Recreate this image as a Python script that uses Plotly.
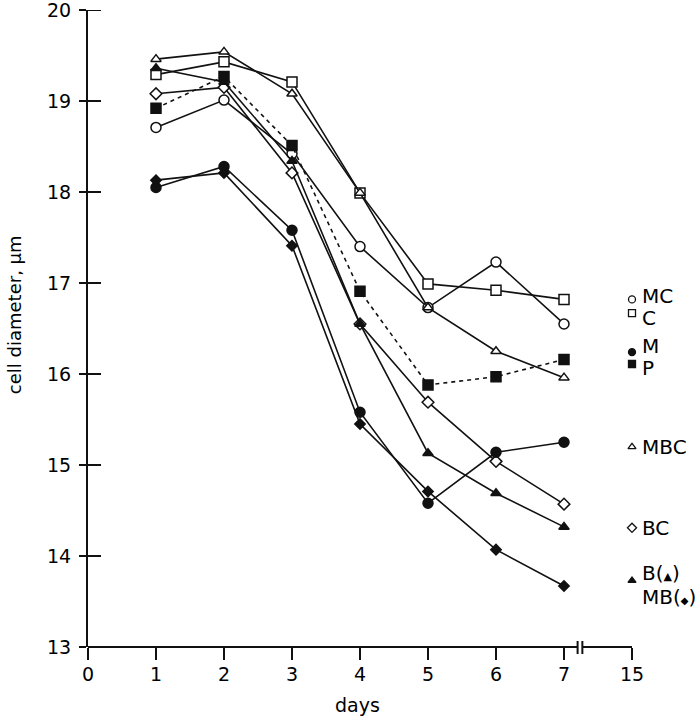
import plotly.graph_objects as go

days = [1, 2, 3, 4, 5, 6, 7]
MC = [18.71, 19.01, 18.42, 17.40, 16.73, 17.23, 16.55]
C = [19.29, 19.43, 19.21, 17.99, 16.99, 16.92, 16.82]
MBC = [19.46, 19.54, 19.08, 17.99, 16.73, 16.25, 15.96]
P = [18.92, 19.27, 18.51, 16.91, 15.88, 15.97, 16.16]
BC = [19.08, 19.15, 18.21, 16.55, 15.69, 15.04, 14.57]
B = [19.36, 19.21, 18.34, 16.55, 15.13, 14.69, 14.32]
M = [18.05, 18.28, 17.58, 15.58, 14.58, 15.14, 15.25]
MB = [18.13, 18.21, 17.41, 15.45, 14.71, 14.07, 13.67]

x_tickvals = [0, 1, 2, 3, 4, 5, 6, 7, 8]
x_ticktext = ["0", "1", "2", "3", "4", "5", "6", "7", "15"]
y_tickvals = [13, 14, 15, 16, 17, 18, 19, 20]

FONT = "DejaVu Sans"
BLACK = "#111111"

series = [
    ("MC", MC, "circle", "white", 10, "solid"),
    ("C", C, "square", "white", 10, "solid"),
    ("MBC", MBC, "triangle-up", "white", 9, "solid"),
    ("BC", BC, "diamond", "white", 9, "solid"),
    ("M", M, "circle", BLACK, 10, "solid"),
    ("MB", MB, "diamond", BLACK, 8, "solid"),
    ("B", B, "triangle-up", BLACK, 9, "solid"),
    ("P", P, "square", BLACK, 10, "4px,4px"),
]

fig = go.Figure()
for name, vals, sym, fill, size, dash in series:
    fig.add_trace(go.Scatter(
        x=days, y=vals, mode="lines+markers", name=name,
        line=dict(color=BLACK, width=1.6, dash=dash),
        marker=dict(symbol=sym, size=size, color=fill,
                    line=dict(color=BLACK, width=1.5)),
        cliponaxis=False, showlegend=False,
    ))

# key on the right
legend_items = [
    ("circle", "white", 16.82, "MC", 16.86),
    ("square", "white", 16.67, "C", 16.62),
    ("circle", BLACK, 16.24, "M", 16.31),
    ("square", BLACK, 16.11, "P", 16.07),
    ("triangle-up", "white", 15.20, "MBC", 15.20),
    ("diamond", "white", 14.31, "BC", 14.31),
    ("triangle-up", BLACK, 13.73, "B(<span style='font-size:11px'>▲</span>)", 13.81),
    (None, None, None, "MB(<span style='font-size:10px'>◆</span>)", 13.55),
]
for sym, fill, my, label, ty in legend_items:
    if sym is not None:
        fig.add_trace(go.Scatter(
            x=[8], y=[my], mode="markers",
            marker=dict(symbol=sym, size=7, color=fill,
                        line=dict(color=BLACK, width=1.3)),
            cliponaxis=False, showlegend=False, hoverinfo="skip",
        ))
    fig.add_annotation(x=8, y=ty, xref="x", yref="y", text=label,
                       showarrow=False, xanchor="left", yanchor="middle",
                       xshift=8, font=dict(family=FONT, size=20, color="black"))

shapes = []
# inner part of the y ticks
for v in y_tickvals[1:]:
    shapes.append(dict(type="line", xref="x", yref="y", xsizemode="pixel",
                       xanchor=0, x0=0, x1=13, y0=v, y1=v,
                       line=dict(color=BLACK, width=2), layer="above"))
# x axis line with a break
for xa, xb in ((0, 7.20), (7.27, 8)):
    shapes.append(dict(type="line", xref="x", yref="paper", x0=xa, x1=xb,
                       y0=0, y1=0, line=dict(color=BLACK, width=2),
                       layer="above"))
for bx in (7.20, 7.27):
    shapes.append(dict(type="line", xref="x", yref="paper", ysizemode="pixel",
                       yanchor=0, x0=bx, x1=bx, y0=-7, y1=6,
                       line=dict(color=BLACK, width=2), layer="above"))

fig.add_annotation(text="cell diameter, µm", xref="paper", yref="paper",
                   x=-0.136, y=0.521, textangle=-90, showarrow=False,
                   xanchor="center", yanchor="middle",
                   font=dict(family=FONT, size=18, color="black"))
fig.add_annotation(text="days", xref="x", yref="paper",
                   x=3.97, y=-0.091, showarrow=False,
                   xanchor="center", yanchor="middle",
                   font=dict(family=FONT, size=19, color="black"))

fig.update_layout(
    template="none",
    width=700, height=720,
    margin=dict(l=88, r=68, t=10, b=73, pad=0),
    paper_bgcolor="white", plot_bgcolor="white",
    font=dict(family=FONT, size=19, color="black"),
    shapes=shapes,
    xaxis=dict(range=[0, 8], tickvals=x_tickvals, ticktext=x_ticktext,
               showline=False, automargin=False,
               ticks="outside", ticklen=12, tickwidth=2, tickcolor=BLACK,
               showgrid=False, zeroline=False, ticklabelstandoff=-2,
               ticklabeloverflow="allow"),
    yaxis=dict(range=[13, 20], tickvals=y_tickvals,
               showline=True, linecolor=BLACK, linewidth=2, automargin=False,
               ticks="outside", ticklen=7, tickwidth=2, tickcolor=BLACK,
               showgrid=False, zeroline=False, ticklabelstandoff=4,
               ticklabeloverflow="allow"),
)

fig.write_html("out.html",
               config={"displayModeBar": False},
               post_script="document.body.style.margin='0px';"
                           "document.body.style.overflow='hidden';")
